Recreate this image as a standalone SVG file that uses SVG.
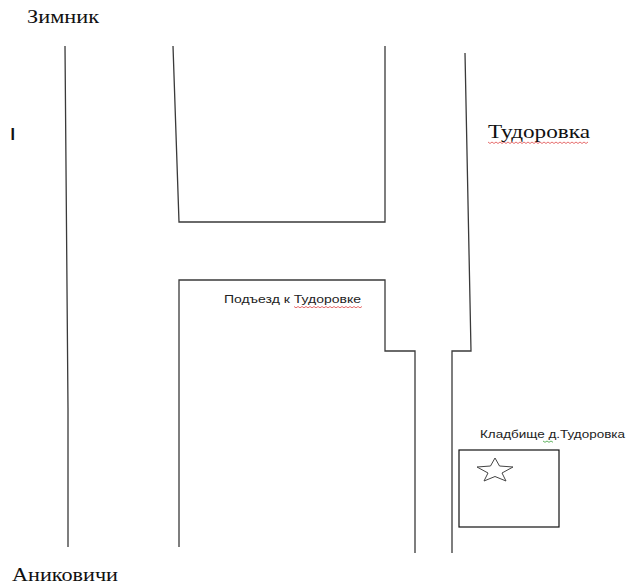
<svg xmlns="http://www.w3.org/2000/svg" width="644" height="584" viewBox="0 0 644 584">
<style>
.road{fill:none;stroke:#3a3a3a;stroke-width:1.3;stroke-linejoin:miter}
.box{fill:none;stroke:#111;stroke-width:1.2}
.serif{font-family:"Liberation Serif","Times New Roman",serif;font-size:18px;fill:#111}
.sans{font-family:"Liberation Sans",Arial,sans-serif;font-size:11.5px;fill:#222}
.wavy-red{fill:none;stroke:#e04a4a;stroke-width:0.8}
.wavy-green{fill:none;stroke:#3aa03a;stroke-width:0.8}
</style>
<rect width="644" height="584" fill="#fff"/>
<g id="roads">
<polyline class="road" points="65,46 68,408 68,547"/>
<polyline class="road" points="173,46 179,222 385,222 385,46"/>
<polyline class="road" points="179,547 179,280 385,280 385,351 415,351 415,553"/>
<polyline class="road" points="465,53 471,351 452,351 452,553"/>
</g>
<g id="cemetery">
<rect class="box" x="459" y="450" width="100" height="77"/>
<polygon fill="none" stroke="#444" stroke-width="1" points="495,458 499.5,466 513,467 502,473 506,481 495,476.5 484,481 488,473 477,467 490.5,466"/>
</g>
<g id="labels">
<text class="serif" x="27" y="23" textLength="72" lengthAdjust="spacingAndGlyphs">Зимник</text>
<text x="10.5" y="140" font-family="Liberation Sans,Arial,sans-serif" font-size="16" font-weight="bold" fill="#111">I</text>
<text class="serif" x="488" y="138" textLength="102" lengthAdjust="spacingAndGlyphs">Тудоровка</text>
<path class="wavy-red" d="M488,142 l2,1.5 l2,-1.5 l2,1.5 l2,-1.5 l2,1.5 l2,-1.5 l2,1.5 l2,-1.5 l2,1.5 l2,-1.5 l2,1.5 l2,-1.5 l2,1.5 l2,-1.5 l2,1.5 l2,-1.5 l2,1.5 l2,-1.5 l2,1.5 l2,-1.5 l2,1.5 l2,-1.5 l2,1.5 l2,-1.5 l2,1.5 l2,-1.5 l2,1.5 l2,-1.5 l2,1.5 l2,-1.5 l2,1.5 l2,-1.5 l2,1.5 l2,-1.5 l2,1.5 l2,-1.5 l2,1.5 l2,-1.5 l2,1.5 l2,-1.5 l2,1.5 l2,-1.5 l2,1.5 l2,-1.5 l2,1.5 l2,-1.5 l2,1.5 l2,-1.5 l2,1.5 l2,-1.5"/>
<text class="sans" x="224" y="303" textLength="137" lengthAdjust="spacingAndGlyphs">Подъезд к Тудоровке</text>
<path class="wavy-red" d="M294,306.5 l2,1.3 l2,-1.3 l2,1.3 l2,-1.3 l2,1.3 l2,-1.3 l2,1.3 l2,-1.3 l2,1.3 l2,-1.3 l2,1.3 l2,-1.3 l2,1.3 l2,-1.3 l2,1.3 l2,-1.3 l2,1.3 l2,-1.3 l2,1.3 l2,-1.3 l2,1.3 l2,-1.3 l2,1.3 l2,-1.3 l2,1.3 l2,-1.3 l2,1.3 l2,-1.3 l2,1.3 l2,-1.3 l2,1.3 l2,-1.3 l2,1.3 l2,-1.3"/>
<text class="sans" x="480" y="438" textLength="145" lengthAdjust="spacingAndGlyphs">Кладбище д.Тудоровка</text>
<path class="wavy-green" d="M543,441 l2,1.3 l2,-1.3 l2,1.3 l2,-1.3 l2,1.3"/>
<text class="serif" x="12" y="581" textLength="106" lengthAdjust="spacingAndGlyphs">Аниковичи</text>
</g>
</svg>
